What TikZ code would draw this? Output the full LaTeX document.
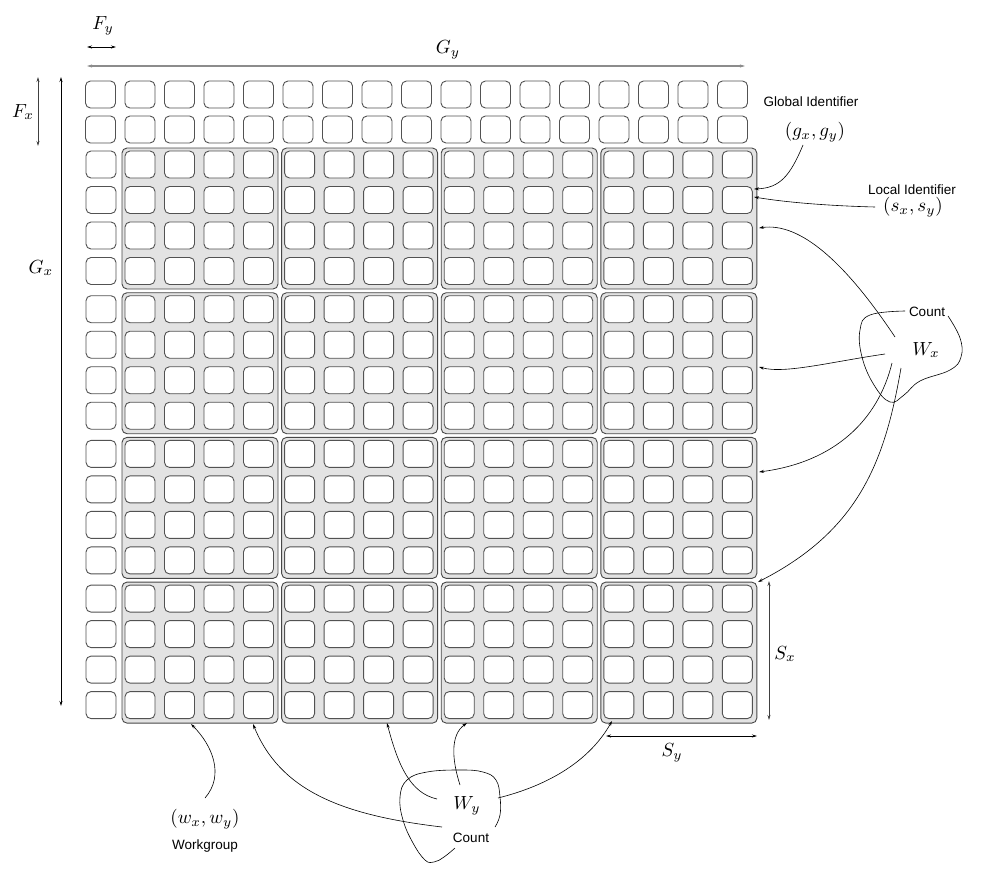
\documentclass[tikz,border=0pt]{standalone}
\usepackage{fontspec}
\newfontfamily\labfont{Liberation Sans}
\usetikzlibrary{arrows.meta,calc}
\begin{document}
\begin{tikzpicture}[x=1pt,y=-1pt,
  cell/.style={draw=black!68, line width=0.9pt, fill=white, rounded corners=5pt,
    minimum width=30pt, minimum height=27pt, inner sep=0pt},
  wgbox/.style={draw=black!72, line width=0.9pt, fill=black!11, rounded corners=5pt,
    minimum width=156pt, minimum height=141pt, inner sep=0pt},
  lab/.style={font=\labfont\fontsize{13.5}{15}\selectfont, inner sep=0pt},
  mathlab/.style={font=\normalsize, inner sep=0pt, scale=1.9},
  ann/.style={line width=0.6pt, -{Stealth[length=5pt,width=3pt]}},
  dim/.style={line width=0.7pt, {Stealth[length=5pt,width=3pt]}-{Stealth[length=5pt,width=3pt]}},
]
\useasboundingbox (0,0) rectangle (982,878);

% top two rows
\foreach \r/\yy in {0/94.5,1/129.5}
  \foreach \c in {0,...,16}
    \node[cell] (t-\r-\c) at ({100.5+39.5*\c},\yy) {};

% workgroups
\foreach \i in {0,...,3} {
  \foreach \j in {0,...,3} {
    \node[wgbox] (w-\i-\j) at ({200+159.6*\j},{218.5+144.7*\i}) {};
    \foreach \r in {0,...,3}
      \foreach \c in {0,...,3}
        \node[cell] (w-\i-\j-\r-\c) at ({140+159.6*\j+39.5*\c},{164.5+144.7*\i+35.5*\r}) {};
  }
}

% left column
\foreach \i in {0,...,3}
  \foreach \r in {0,...,3}
    \node[cell] (l-\i-\r) at (101,{164.5+144.7*\i+35.5*\r}) {};

% dimension arrows
\coordinate (fy1) at (87,47);   \coordinate (fy2) at (116,47);
\coordinate (gy1) at (87,66);   \coordinate (gy2) at (745,66);
\coordinate (gx1) at (61,77);   \coordinate (gx2) at (61,706);
\coordinate (fx1) at (38,77);   \coordinate (fx2) at (38,146);
\coordinate (sx1) at (769,581); \coordinate (sx2) at (769,720);
\coordinate (sy1) at (606,736); \coordinate (sy2) at (757,736);
\draw[dim] (fy1) -- (fy2);
\draw[dim, line width=1.4pt, draw=black!45] (gy1) -- (gy2);
\draw[dim, line width=0.9pt] (gx1) -- (gx2);
\draw[dim, draw=black!75] (fx1) -- (fx2);
\draw[dim, draw=black!75] (sx1) -- (sx2);
\draw[dim] (sy1) -- (sy2);

% labels
\node[mathlab] (Fy) at (103,26) {$F_y$};
\node[mathlab] (Gy) at (448,50) {$G_y$};
\node[mathlab] (Fx) at (23,112) {$F_x$};
\node[mathlab] (Gx) at (41,268) {$G_x$};
\node[mathlab] (Sx) at (785,654) {$S_x$};
\node[mathlab] (Sy) at (672,753) {$S_y$};

\node[lab] (gid) at (811,102) {Global Identifier};
\node[mathlab] (gxy) at (815,132) {$(g_x,g_y)$};
\node[lab] (lid) at (912,190) {Local Identifier};
\node[mathlab] (sxy) at (913,207) {$(s_x,s_y)$};
\node[lab] (cntx) at (927,312) {Count};
\node[mathlab] (Wx) at (926,350) {$W_x$};
\node[mathlab] (Wy) at (467,806) {$W_y$};
\node[lab] (cnty) at (471,838) {Count};
\node[mathlab] (wxy) at (205,819) {$(w_x,w_y)$};
\node[lab] (wg) at (205,846) {Workgroup};

% blobs
\draw[line width=0.6pt] plot[smooth, tension=0.7] coordinates {(905,311) (870,315) (860,330) (862,357) (874,385) (890,402) (904,395) (920,381) (950,370) (961,357) (960,338) (948,316)};
\draw[line width=0.6pt] plot[smooth, tension=0.7] coordinates {(495,827) (500,815) (500,797) (496,780) (483,772) (460,770) (427,772) (407,780) (400,797) (403,820) (413,843) (425,860) (434,862) (444,857) (455,848)};

% annotation arrows
\coordinate (ga) at (803,145); \coordinate (gb) at (754,189);
\draw[ann] (ga) .. controls (790,176) and (780,188) .. (gb);
\coordinate (la) at (875,207); \coordinate (lb) at (754,197);
\draw[ann] (la) .. controls (835,206) and (790,203) .. (lb);

\coordinate (xa1) at (895,337); \coordinate (xb1) at (759,228);
\draw[ann] (xa1) .. controls (845,262) and (800,222) .. (xb1);
\coordinate (xa2) at (885,354); \coordinate (xb2) at (759,367);
\draw[ann] (xa2) .. controls (830,362) and (785,374) .. (xb2);
\coordinate (xa3) at (892,363); \coordinate (xb3) at (759,472);
\draw[ann] (xa3) .. controls (878,420) and (835,462) .. (xb3);
\coordinate (xa4) at (901,368); \coordinate (xb4) at (758,582);
\draw[ann] (xa4) .. controls (885,460) and (860,530) .. (xb4);

\coordinate (ya1) at (460,785); \coordinate (yb1) at (467,723);
\draw[ann] (ya1) .. controls (452,760) and (450,735) .. (yb1);
\coordinate (ya2) at (437,799); \coordinate (yb2) at (387,723);
\draw[ann] (ya2) .. controls (410,793) and (398,765) .. (yb2);
\coordinate (ya3) at (442,827); \coordinate (yb3) at (253,724);
\draw[ann] (ya3) .. controls (340,815) and (280,790) .. (yb3);
\coordinate (ya4) at (498,798); \coordinate (yb4) at (612,721);
\draw[ann] (ya4) .. controls (550,785) and (590,760) .. (yb4);

\coordinate (wa) at (205,798); \coordinate (wb) at (191,724);
\draw[ann] (wa) .. controls (225,775) and (212,745) .. (wb);
\end{tikzpicture}
\end{document}
